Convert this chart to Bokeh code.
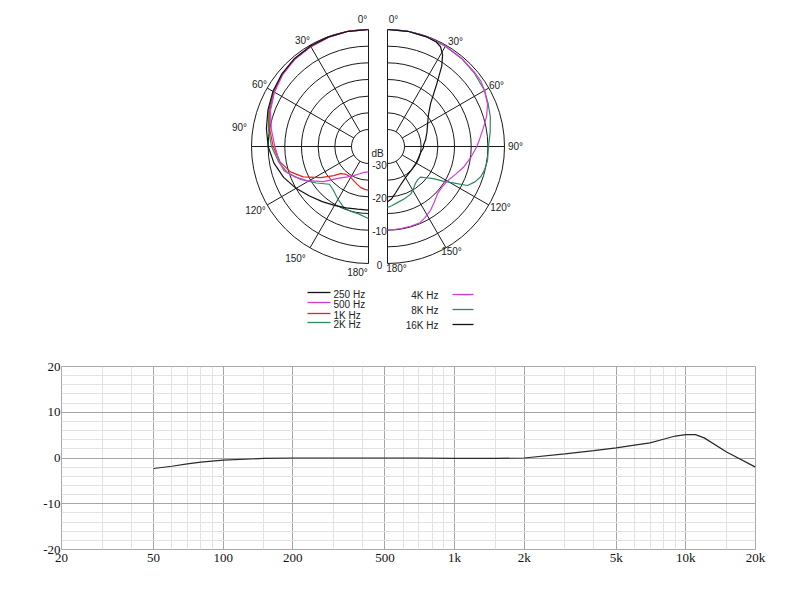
import numpy as np
from bokeh.plotting import figure
from bokeh.models import Range1d, FixedTicker, CustomJSTickFormatter
from bokeh.layouts import column
from bokeh.embed import file_html
from bokeh.resources import INLINE
from bokeh.core.properties import value

# ---------------- data: polar patterns (angle in degrees, level in dB) -------------
# left half
ang_250 = [0, 10, 20, 30, 40, 50, 60, 70, 80, 90, 100, 110, 120, 130, 140, 150, 160, 170, 180]
db_250 = [0, 0, -0.1, -0.3, -0.6, -1.2, -2.0, -3.0, -4.0, -5.0, -6.3, -8.0, -10.0, -12.0, -13.5, -14.7, -15.5, -16.0, -16.0]

ang_500 = [0, 10, 20, 30, 40, 50, 60, 70, 80, 90, 100, 106, 112, 119, 128, 136, 145, 153, 162, 170, 180]
db_500 = [0, 0, -0.2, -0.5, -0.8, -1.5, -2.5, -3.8, -5.5, -7.0, -8.0, -8.7, -11.0, -14.0, -18.0, -21.8, -24.0, -25.3, -26.5, -27.2, -27.5]

ang_1k = [0, 10, 20, 30, 40, 50, 60, 70, 80, 90, 100, 108, 115, 123, 130, 134, 140, 148, 156, 163, 169, 175, 180]
db_1k = [0, 0, -0.2, -0.5, -0.8, -1.4, -2.4, -3.6, -5.0, -6.5, -8.2, -10.5, -13.5, -18.0, -21.5, -23.4, -24.3, -24.5, -24.0, -23.3, -22.6, -22.2, -22.0]

ang_2k = [0, 10, 20, 30, 40, 50, 60, 70, 80, 90, 100, 108, 116, 125, 134, 141, 149, 158, 165, 171, 180]
db_2k = [0, 0, -0.1, -0.4, -0.7, -1.3, -2.2, -3.3, -4.6, -6.0, -7.8, -9.6, -12.5, -16.0, -18.8, -18.3, -17.0, -15.3, -14.9, -14.7, -13.5]

# right half
ang_4k = [0, 10, 20, 30, 40, 50, 55, 60, 67, 73, 79, 85, 90, 97, 105, 112, 120, 127, 133, 140, 146, 152, 157, 164, 170, 175, 180]
db_4k = [0, 0, -0.1, -0.3, -0.5, -0.8, -0.9, -1.5, -2.5, -4.0, -5.8, -7.3, -8.3, -9.8, -11.4, -13.0, -14.4, -14.7, -14.5, -13.3, -12.0, -11.0, -10.2, -10.2, -10.2, -10.1, -10.0]

ang_8k = [0, 10, 20, 30, 40, 50, 60, 67, 74, 82, 90, 98, 104, 108, 112, 116, 119, 122, 125, 129, 133, 138, 143, 148, 154, 162, 170, 176, 180]
db_8k = [0, 0, -0.1, -0.4, -0.6, -1.0, -1.5, -2.3, -3.0, -4.0, -4.8, -4.8, -5.2, -5.7, -6.8, -8.4, -12.6, -15.5, -18.3, -20.2, -21.6, -21.6, -21.2, -20.3, -19.2, -18.6, -18.0, -17.3, -16.8]

ang_16k = [0, 10, 20, 25, 28, 31, 34, 38, 45, 52, 60, 70, 80, 88, 92, 100, 110, 120, 136, 150, 162, 170, 176, 180]
db_16k = [0, 0, -0.2, -0.5, -1.2, -3.0, -6.0, -11.0, -16.8, -19.5, -21.2, -22.5, -23.5, -24.3, -24.3, -25.0, -25.2, -25.2, -25.0, -24.3, -22.8, -21.0, -19.2, -18.5]

ring_db = [-30, -25, -20, -15, -10, -5, 0]
spoke_deg = [30, 60, 90, 120, 150]
scale_db = [-30, -20, -10, 0]
angle_labels = ["0°", "30°", "60°", "90°", "120°", "150°", "180°"]

legend_left = ["250 Hz", "500 Hz", "1K Hz", "2K Hz"]
legend_right = ["4K Hz", "8K Hz", "16K Hz"]

# ---------------- data: frequency response -------------
freq = [50, 60, 70, 80, 100, 150, 200, 500, 700, 1000, 1500, 2000, 3000, 4000, 5000,
        6000, 7000, 8000, 9000, 10000, 11000, 12000, 15000, 20000]
resp = [-2.3, -1.8, -1.3, -0.9, -0.45, -0.1, 0.0, 0.0, 0.0, -0.1, -0.1, 0.0, 0.9, 1.6, 2.2,
        2.8, 3.3, 4.1, 4.8, 5.1, 5.1, 4.4, 1.3, -2.0]
x_major = [20, 50, 100, 200, 500, 1000, 2000, 5000, 10000, 20000]
x_minor = [30, 40, 60, 70, 80, 90, 150, 300, 400, 600, 700, 800, 900, 1500,
           3000, 4000, 6000, 7000, 8000, 9000, 15000]
y_major = [-20, -10, 0, 10, 20]
y_minor = [-18, -16, -14, -12, -8, -6, -4, -2, 2, 4, 6, 8, 12, 14, 16, 18]

# ---------------- styles -------------
BLACK = "#111111"
MAGENTA = "#d63cd6"
RED = "#e3261c"
GREEN = "#2b8a5c"
GRIDC = "#1a1a1a"
SANS = "Liberation Sans"
SERIF = "Liberation Serif"

# shared horizontal frame (both figures are frame-aligned inside the column)
BORDER_L, BORDER_R, WIDTH = 61, 45, 800

# ---------------- polar figure -------------
R0 = 117.0            # radius of 0 dB ring (px)
K = 100.0 / 30.0      # px per dB
CXL, CXR = 0.0, 19.0  # centres of the two half plots
ORIGIN_X = 368        # page x of the left centre


def rad(db):
    return R0 + K * np.asarray(db, dtype=float)


def half_xy(ang, db, side):
    t = np.radians(np.asarray(ang, dtype=float))
    r = rad(db)
    if side == "L":
        return CXL - r * np.sin(t), r * np.cos(t)
    return CXR + r * np.sin(t), r * np.cos(t)


pp = figure(width=WIDTH, height=340,
            x_range=Range1d(BORDER_L - ORIGIN_X, WIDTH - BORDER_R - ORIGIN_X),
            y_range=Range1d(-194, 146),
            output_backend="svg", toolbar_location=None, x_axis_type=None, y_axis_type=None,
            min_border=0, min_border_left=BORDER_L, min_border_right=BORDER_R,
            outline_line_color=None)

# rings
rr = rad(ring_db)
pp.arc(x=[CXL] * len(rr), y=[0] * len(rr), radius=rr, start_angle=np.pi / 2, end_angle=3 * np.pi / 2,
       line_color=GRIDC, line_width=1)
pp.arc(x=[CXR] * len(rr), y=[0] * len(rr), radius=rr, start_angle=-np.pi / 2, end_angle=np.pi / 2,
       line_color=GRIDC, line_width=1)
# spokes
r_out = rad(0)
for side in ("L", "R"):
    x0, y0 = half_xy(spoke_deg, [-30] * len(spoke_deg), side)
    x1, y1 = half_xy(spoke_deg, [0] * len(spoke_deg), side)
    pp.segment(x0=x0, y0=y0, x1=x1, y1=y1, line_color=GRIDC, line_width=1)
# diameters
pp.segment(x0=[CXL, CXR], y0=[-r_out, -r_out], x1=[CXL, CXR], y1=[r_out, r_out],
           line_color=GRIDC, line_width=1)

# curves
for ang, db, col, side in [(ang_2k, db_2k, GREEN, "L"), (ang_1k, db_1k, RED, "L"),
                           (ang_500, db_500, MAGENTA, "L"), (ang_250, db_250, BLACK, "L"),
                           (ang_8k, db_8k, GREEN, "R"), (ang_4k, db_4k, MAGENTA, "R"),
                           (ang_16k, db_16k, BLACK, "R")]:
    xs, ys = half_xy(ang, db, side)
    pp.line(xs, ys, line_color=col, line_width=1.2)

# angle labels (positions relative to the half-plot centres)
lab_L = [(-6, 127), (-66, 106), (-109, 62), (-129, 19), (-113, -64), (-73, -112), (-11, -126)]
lab_R = [(25, 127), (87, 105), (128, 61), (147, 0), (132, -61), (83, -105), (28, -122)]
pp.text(x=[p[0] for p in lab_L], y=[p[1] for p in lab_L], text=angle_labels,
        text_font=value(SANS), text_font_size="10px", text_color="#222222",
        text_align="center", text_baseline="middle")
pp.text(x=[p[0] for p in lab_R], y=[p[1] for p in lab_R], text=angle_labels,
        text_font=value(SANS), text_font_size="10px", text_color="#222222",
        text_align="center", text_baseline="middle")

# dB scale
pp.text(x=[9], y=[-7], text=["dB"], text_font=value(SANS), text_font_size="10px",
        text_color="#222222", text_align="center", text_baseline="middle")
pp.text(x=[11] * len(scale_db), y=list(-rad(scale_db) - 1), text=[str(v) for v in scale_db],
        text_font=value(SANS), text_font_size="10px", text_color="#222222",
        text_align="center", text_baseline="middle")

# legend
ll_y = [-146, -156, -167, -176]
pp.segment(x0=[-61] * 4, y0=ll_y, x1=[-38] * 4, y1=ll_y,
           line_color=[BLACK, MAGENTA, RED, GREEN], line_width=1.3)
pp.text(x=[-35] * 4, y=[v - 1.5 for v in ll_y], text=legend_left, text_font=value(SANS),
        text_font_size="10px", text_color="#222222", text_align="left", text_baseline="middle")
lr_y = [-148, -163, -178]
pp.segment(x0=[84] * 3, y0=lr_y, x1=[105] * 3, y1=lr_y,
           line_color=[MAGENTA, GREEN, BLACK], line_width=1.3)
pp.text(x=[70] * 3, y=[v - 0.5 for v in lr_y], text=legend_right, text_font=value(SANS),
        text_font_size="10px", text_color="#222222", text_align="right", text_baseline="middle")

# ---------------- frequency response figure -------------
pf = figure(width=WIDTH, height=244, x_axis_type="log", x_range=Range1d(20, 20000),
            y_range=Range1d(-20, 20), output_backend="svg", toolbar_location=None,
            min_border_left=BORDER_L, min_border_right=BORDER_R, min_border_top=26,
            min_border_bottom=35, outline_line_color="#aaaaaa")
pf.xaxis.ticker = FixedTicker(ticks=x_major, minor_ticks=x_minor)
pf.yaxis.ticker = FixedTicker(ticks=y_major, minor_ticks=y_minor)
pf.xaxis.formatter = CustomJSTickFormatter(
    code="return tick >= 1000 ? (tick/1000) + 'k' : String(tick);")
pf.yaxis.formatter = CustomJSTickFormatter(code="return String(tick);")
for ax in (pf.xaxis, pf.yaxis):
    ax.major_tick_line_color = None
    ax.minor_tick_line_color = None
    ax.axis_line_color = None
    ax.major_label_text_font = SERIF
    ax.major_label_text_font_size = "13px"
    ax.major_label_text_color = "#111111"
pf.xaxis.major_label_standoff = -6
pf.yaxis.major_label_standoff = -5
for g in (pf.xgrid, pf.ygrid):
    g.grid_line_color = "#a6a6a6"
    g.minor_grid_line_color = "#e3e3e3"
    g.grid_line_width = 1

pf.line(freq, resp, line_color="#2a2a2a", line_width=1.2)

layout = column(pp, pf, spacing=0)
open("out.html", "w").write(file_html(layout, INLINE))
